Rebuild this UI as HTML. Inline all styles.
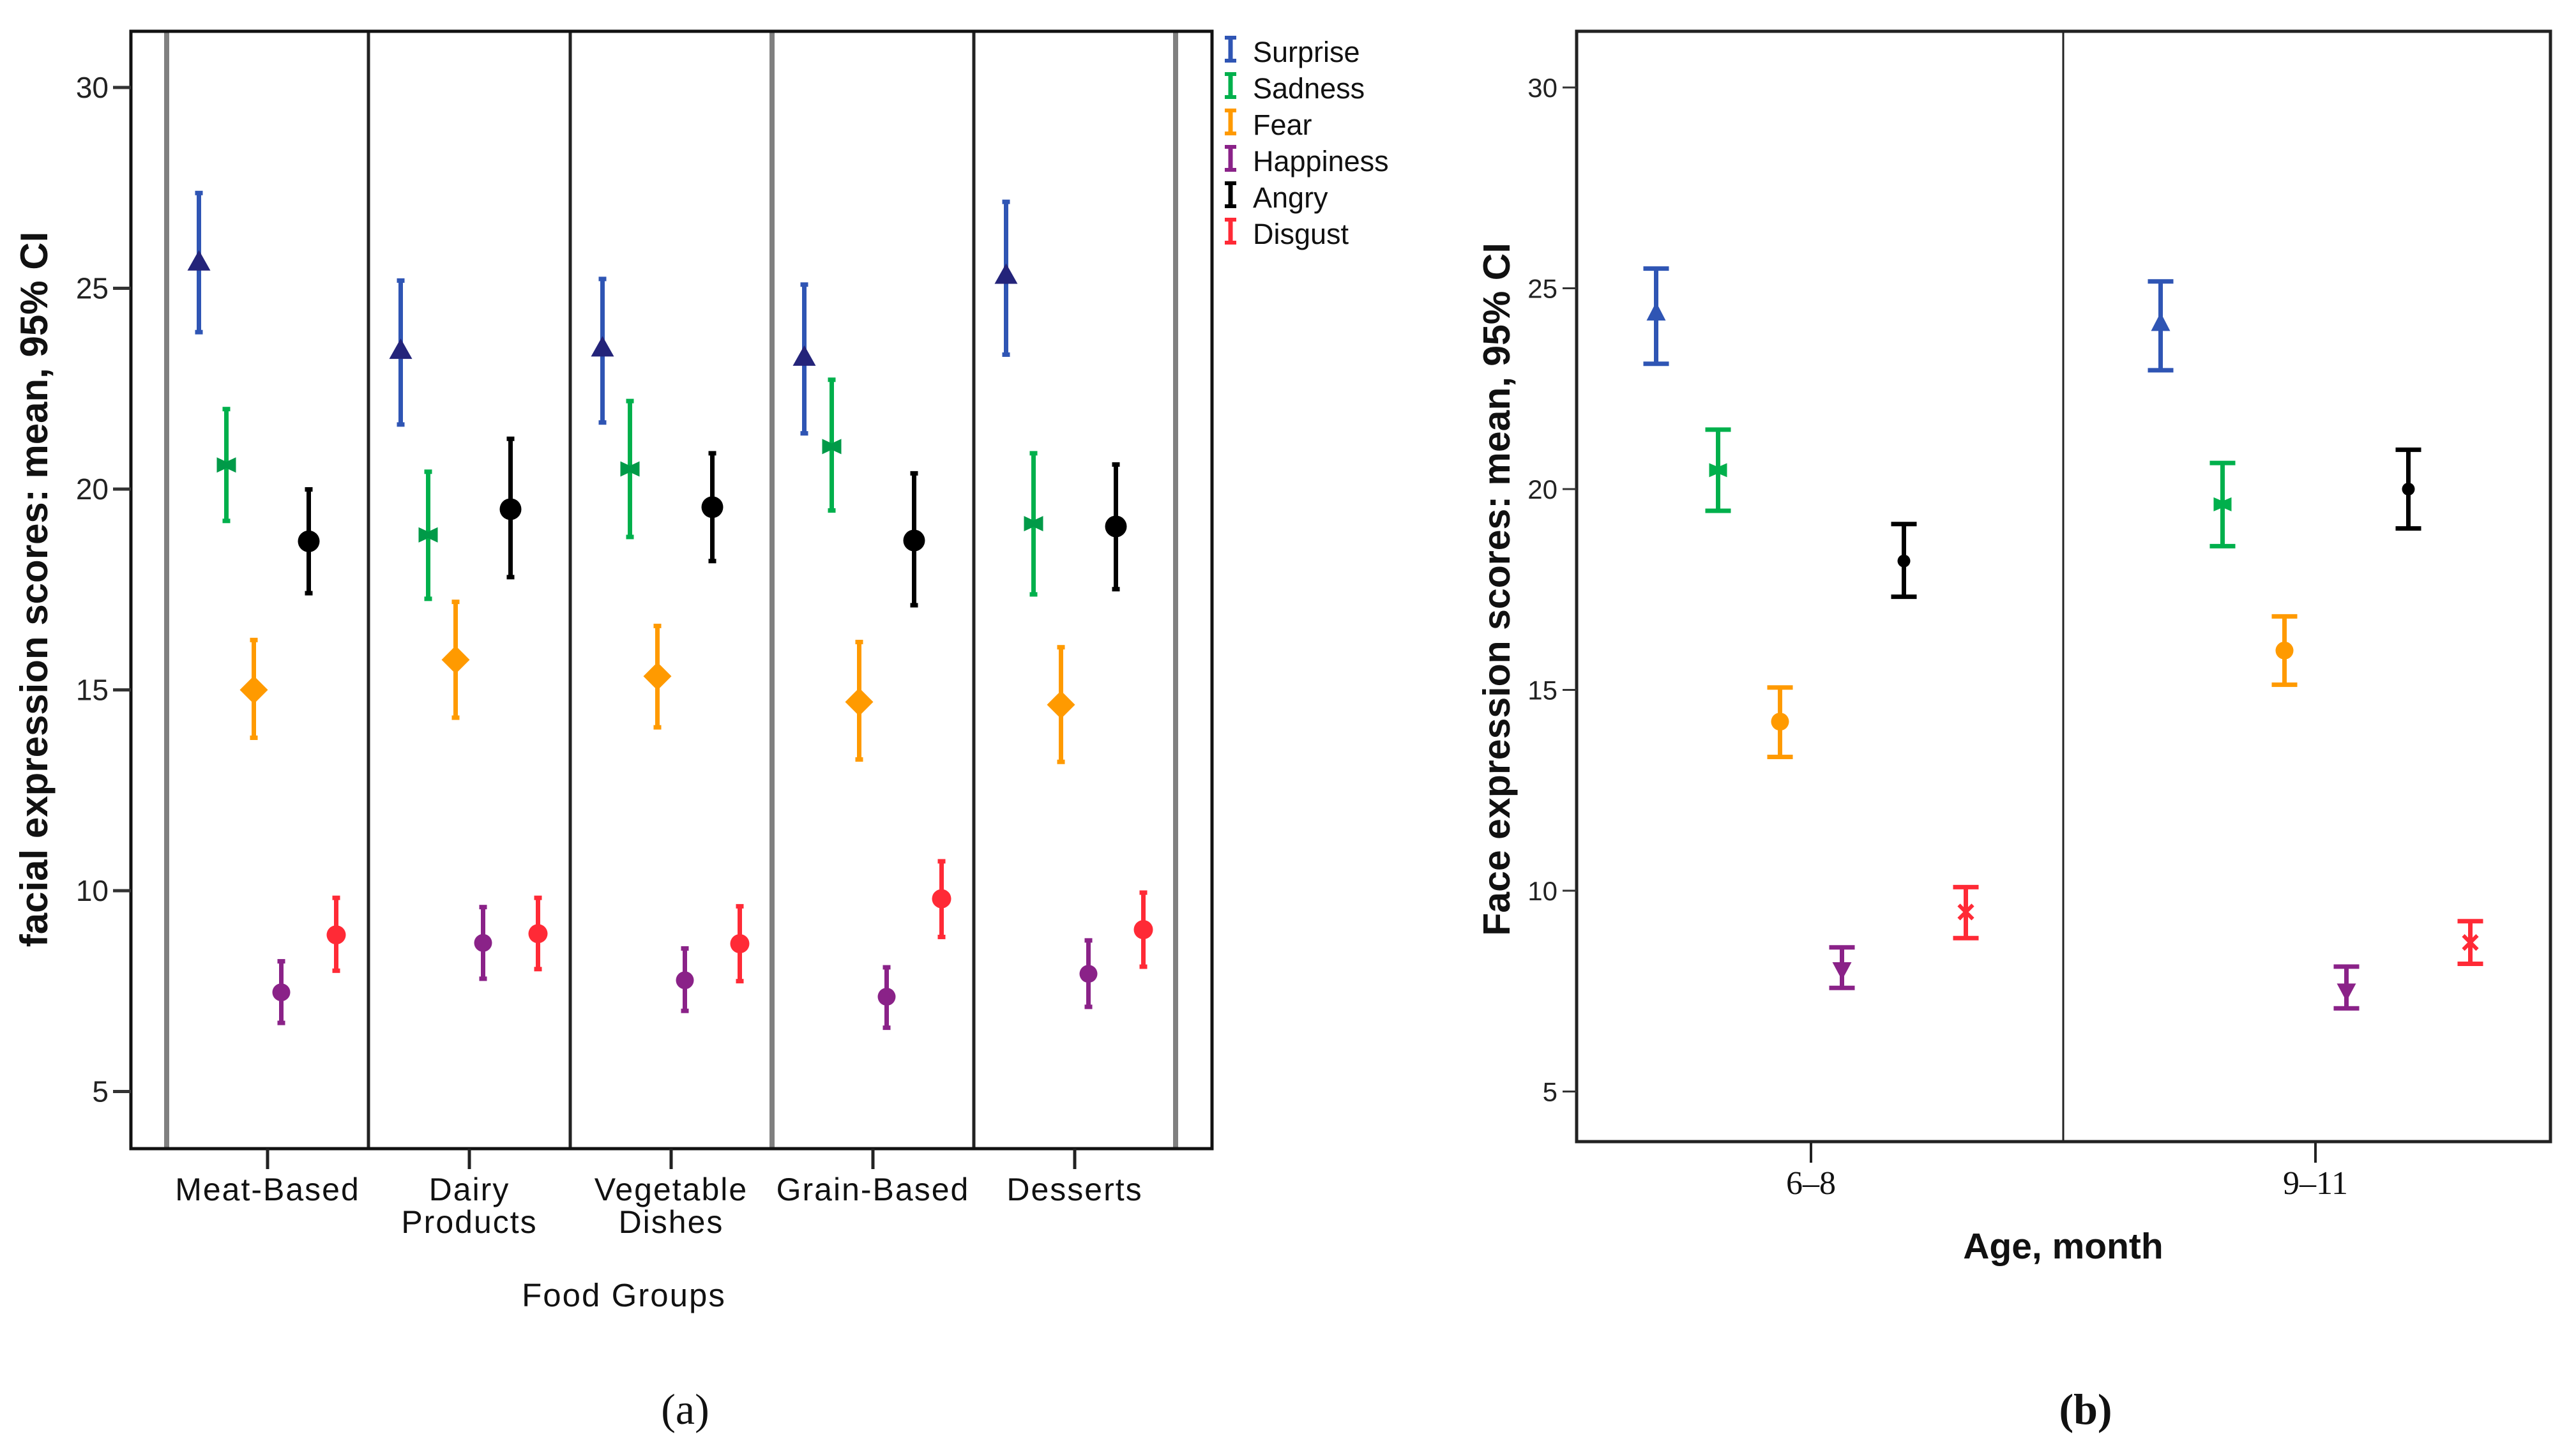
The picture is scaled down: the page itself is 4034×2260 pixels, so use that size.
<!DOCTYPE html>
<html><head><meta charset="utf-8"><style>
html,body{margin:0;padding:0;background:#fff;}
svg{display:block;font-family:"Liberation Sans",sans-serif;}
</style></head><body>
<svg id="fig" width="4034" height="2260" viewBox="0 0 4034 2260" xmlns="http://www.w3.org/2000/svg">
<g id="chartA"></g>
<g id="chartB"></g>
</svg>
<script>
const emotions = ["Surprise","Sadness","Fear","Happiness","Angry","Disgust"];
const colors = ["#2f55b4","#00b04c","#ff9a00","#8a2288","#000000","#ff2a36"];
const foodGroups = ["Meat-Based","Dairy Products","Vegetable Dishes","Grain-Based","Desserts"];
const yTicks = [5,10,15,20,25,30];
// chart A: per emotion, per food group
const aMean = [
 [25.6,23.4,23.46,23.23,25.27],
 [20.6,18.86,20.5,21.06,19.14],
 [15.0,15.75,15.34,14.7,14.63],
 [7.47,8.7,7.77,7.36,7.93],
 [18.7,19.5,19.55,18.72,19.07],
 [8.9,8.93,8.68,9.8,9.03]];
const aLow = [
 [23.9,21.6,21.65,21.38,23.34],
 [19.2,17.26,18.8,19.46,17.37],
 [13.8,14.3,14.06,13.26,13.2],
 [6.7,7.8,7.0,6.58,7.1],
 [17.4,17.8,18.2,17.1,17.5],
 [8.0,8.04,7.74,8.84,8.1]];
const aHigh = [
 [27.38,25.2,25.24,25.1,27.16],
 [22.0,20.44,22.2,22.73,20.9],
 [16.25,17.2,16.6,16.2,16.07],
 [8.25,9.6,8.57,8.1,8.77],
 [20.0,21.26,20.9,20.4,20.62],
 [9.83,9.83,9.62,10.74,9.96]];
// chart B
const ageGroups = ["6–8","9–11"];
const bMean = [[24.34,24.08],[20.47,19.62],[14.21,15.98],[8.06,7.53],[18.21,20.0],[9.47,8.71]];
const bLow  = [[23.12,22.96],[19.46,18.58],[13.33,15.13],[7.58,7.07],[17.32,19.02],[8.82,8.18]];
const bHigh = [[25.49,25.17],[21.48,20.65],[15.06,16.83],[8.59,8.11],[19.13,20.98],[10.09,9.24]];

const NS="http://www.w3.org/2000/svg";
function mk(parent,tag,attrs,text){const e=document.createElementNS(NS,tag);for(const k in attrs)e.setAttribute(k,attrs[k]);if(text!==undefined)e.textContent=text;parent.appendChild(e);return e;}
const yScale = v => 137 + (30 - v) * 62.9;

/* ---------- Chart A ---------- */
const A = document.getElementById('chartA');
const aL=205,aR=1898,aT=49,aB=1799;
const aGroupW = 316, aFirst = 261;
const aX = (g,s) => aFirst + aGroupW*(g+0.5) + (s-2.5)*43;
for(let i=0;i<=5;i++){
  const x = aFirst + aGroupW*i;
  const gray = (i===0||i===3||i===5);
  const d = mk(A,'line',{x1:x,y1:aT,x2:x,y2:aB,stroke:gray?'#808080':'#222',"stroke-width":gray?8:5});
  
  
}
const fa = mk(A,'rect',{x:aL,y:aT,width:aR-aL,height:aB-aT,fill:'none',stroke:'#111',"stroke-width":5});

yTicks.forEach(t=>{
  const y=yScale(t);
  const tk=mk(A,'line',{x1:aL-28,y1:y,x2:aL,y2:y,stroke:'#333',"stroke-width":5});
  
  const tl=mk(A,'text',{x:aL-35,y:y+16,"text-anchor":"end","font-size":46,fill:'#222'},String(t));
  
});
foodGroups.forEach((g,i)=>{
  const x=aFirst+aGroupW*(i+0.5);
  const tk=mk(A,'line',{x1:x,y1:aB,x2:x,y2:aB+32,stroke:'#222',"stroke-width":5});
  
  const words=g.split(' ');
  const lbl=mk(A,'text',{x:x,y:1880,"text-anchor":"middle","font-size":50,"letter-spacing":2,fill:'#111'});
  
  if(g==="Meat-Based"||g==="Grain-Based"){lbl.textContent=g;}
  else{words.forEach((w,k)=>{mk(lbl,'tspan',{x:x,dy:k?51:0},w);});}
});
const xta=mk(A,'text',{x:977,y:2046,"text-anchor":"middle","font-size":51,"letter-spacing":2,fill:'#111'},'Food Groups');

const yta=mk(A,'text',{x:0,y:0,"text-anchor":"middle","font-size":60,"font-weight":"bold",fill:'#111',transform:'translate(74,923) rotate(-90)'},'facial expression scores: mean, 95% CI');


function markerA(g,s,x,y){
  const c = colors[s];
  let e;
  if(s===0){e=mk(g,'polygon',{points:`${x},${y-22} ${x-18},${y+10} ${x+18},${y+10}`,fill:'#24247a'});}
  else if(s===1){e=mk(g,'polygon',{points:`${x-15},${y-12} ${x},${y-5} ${x+15},${y-12} ${x+15},${y+12} ${x},${y+5} ${x-15},${y+12}`,fill:'#009a48'});}
  else if(s===2){e=mk(g,'polygon',{points:`${x},${y-22} ${x+22},${y} ${x},${y+22} ${x-22},${y}`,fill:c});}
  else if(s===3){e=mk(g,'circle',{cx:x,cy:y,r:14,fill:c});}
  else if(s===4){e=mk(g,'circle',{cx:x,cy:y,r:17,fill:c});}
  else {e=mk(g,'circle',{cx:x,cy:y,r:15,fill:c});}
  
  
}
emotions.forEach((em,s)=>{
  const sg=mk(A,'g',{});
  
  
  foodGroups.forEach((fg,g)=>{
    const x=aX(g,s);
    const bar=mk(sg,'line',{x1:x,y1:yScale(aHigh[s][g]),x2:x,y2:yScale(aLow[s][g]),stroke:colors[s],"stroke-width":7});
    
    mk(sg,'rect',{x:x-6,y:yScale(aHigh[s][g])-3,width:12,height:7,fill:colors[s]});
    mk(sg,'rect',{x:x-6,y:yScale(aLow[s][g])-4,width:12,height:7,fill:colors[s]});
    markerA(sg,s,x,yScale(aMean[s][g]));
  });
});
emotions.forEach((em,i)=>{
  const lg=mk(A,'g',{});
  
  
  const by=97+i*57;
  const x=1927;
  mk(lg,'rect',{x:x-9,y:by-41,width:18,height:6,fill:colors[i]});
  mk(lg,'rect',{x:x-9,y:by-5,width:18,height:6,fill:colors[i]});
  mk(lg,'rect',{x:x-3.5,y:by-41,width:7,height:42,fill:colors[i]});
  mk(lg,'text',{x:1962,y:by,"font-size":45,fill:'#111'},em);
});

/* ---------- Chart B ---------- */
const B=document.getElementById('chartB');
const bL=2469,bR=3994,bT=49,bB=1788,bMid=3231;
const bCenters=[2836,3626];
const bX=(g,s)=>bCenters[g]+(s-2.5)*97;
const dv=mk(B,'line',{x1:bMid,y1:bT,x2:bMid,y2:bB,stroke:'#222',"stroke-width":3});

const fb=mk(B,'rect',{x:bL,y:bT,width:bR-bL,height:bB-bT,fill:'none',stroke:'#222',"stroke-width":5});

yTicks.forEach(t=>{
  const y=yScale(t);
  const tk=mk(B,'line',{x1:bL-22,y1:y,x2:bL,y2:y,stroke:'#333',"stroke-width":3});
  
  const tl=mk(B,'text',{x:bL-30,y:y+15,"text-anchor":"end","font-size":42,fill:'#222'},String(t));
  
});
ageGroups.forEach((a,i)=>{
  const x=bCenters[i];
  const tk=mk(B,'line',{x1:x,y1:bB,x2:x,y2:bB+33,stroke:'#222',"stroke-width":4});
  
  const tl=mk(B,'text',{x:x,y:1870,"text-anchor":"middle","font-size":52,"font-family":"Liberation Serif, serif",fill:'#111'},a);
  
});
const xtb=mk(B,'text',{x:bMid,y:1971,"text-anchor":"middle","font-size":57,"font-weight":"bold",fill:'#111'},'Age, month');

const ytb=mk(B,'text',{x:0,y:0,"text-anchor":"middle","font-size":59,"font-weight":"bold",fill:'#111',transform:'translate(2364,923) rotate(-90)'},'Face expression scores: mean, 95% CI');


function markerB(g,s,x,y){
  const c=colors[s];let e;
  if(s===0){e=mk(g,'polygon',{points:`${x},${y-20} ${x-15},${y+9} ${x+15},${y+9}`,fill:c});}
  else if(s===1){e=mk(g,'polygon',{points:`${x-14},${y-11} ${x},${y-5} ${x+14},${y-11} ${x+14},${y+11} ${x},${y+5} ${x-14},${y+11}`,fill:c});}
  else if(s===2){e=mk(g,'circle',{cx:x,cy:y,r:14,fill:c});}
  else if(s===3){e=mk(g,'polygon',{points:`${x},${y+18} ${x-15},${y-10} ${x+15},${y-10}`,fill:c});}
  else if(s===4){e=mk(g,'circle',{cx:x,cy:y,r:10,fill:c});}
  else {e=mk(g,'path',{d:`M${x-11},${y-11}L${x+11},${y+11}M${x+11},${y-11}L${x-11},${y+11}`,stroke:c,"stroke-width":6,fill:'none'});}
  
  
}
emotions.forEach((em,s)=>{
  const sg=mk(B,'g',{});
  
  
  ageGroups.forEach((a,g)=>{
    const x=bX(g,s);
    const yh=yScale(bHigh[s][g]), yl=yScale(bLow[s][g]);
    const bar=mk(sg,'path',{d:`M${x},${yh}L${x},${yl}M${x-20},${yh}L${x+20},${yh}M${x-20},${yl}L${x+20},${yl}`,stroke:colors[s],"stroke-width":7,fill:'none'});
    
    markerB(sg,s,x,yScale(bMean[s][g]));
  });
});

const ca=mk(document.getElementById('fig'),'text',{x:1073,y:2230,"text-anchor":"middle","font-size":68,"font-family":"Liberation Serif, serif",fill:'#111'},'(a)');

const cb=mk(document.getElementById('fig'),'text',{x:3266,y:2230,"text-anchor":"middle","font-size":68,"font-weight":"bold","font-family":"Liberation Serif, serif",fill:'#111'},'(b)');

</script>
</body></html>
